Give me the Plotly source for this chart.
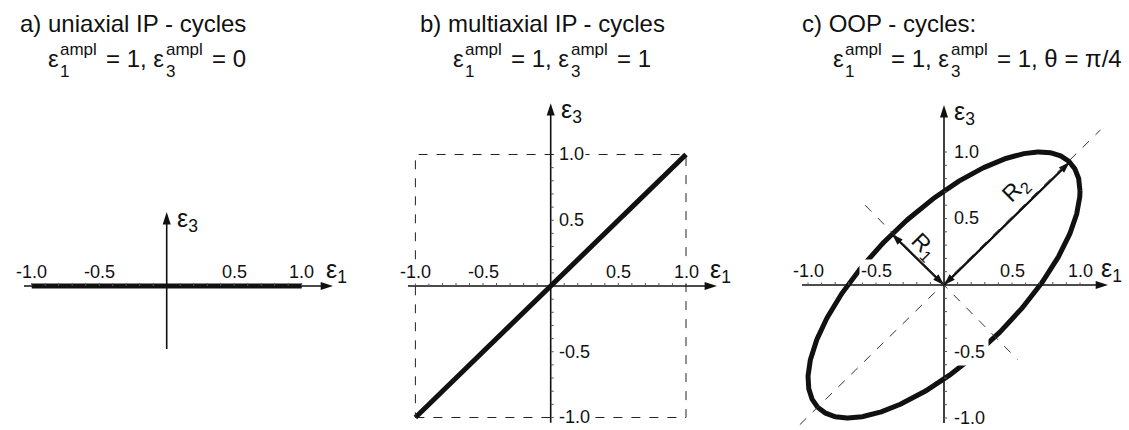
import numpy as np
import plotly.graph_objects as go

W, H = 1129, 430
FONT = "Liberation Sans, Arial, Helvetica, sans-serif"
INK = "#111111"

# ---- data: strain amplitudes and phase shift of the three cycle types ----
eps1_ampl = [1.0, 1.0, 1.0]
eps3_ampl = [0.0, 1.0, 1.0]
phase_shift = [0.0, 0.0, np.pi / 4]

title_line1 = ["a) uniaxial IP - cycles", "b) multiaxial IP - cycles", "c) OOP - cycles:"]
title_eps3 = ["= 0", "= 1", "= 1, θ = π/4"]

tick_vals = [-1.0, -0.5, 0.5, 1.0]
tick_text = ["-1.0", "-0.5", "0.5", "1.0"]
minor_tick_vals = [-1.0, -0.9, -0.8, -0.7, -0.6, -0.5, -0.4, -0.3, -0.2, -0.1,
                   0.1, 0.2, 0.3, 0.4, 0.5, 0.6, 0.7, 0.8, 0.9, 1.0]

# ---- layout of each panel (pixel origin, pixel scale, axis extents) ----
PANELS = [
    dict(ox=166.7, oy=286, sx=135.0, sy=135.0, xr=(-1.2, 1.3), yr=(-1.05, 1.45),
         xax=(-1.057, 1.232), yax=(-0.467, 0.548), yticks=False,
         t1=18, t2=47),
    dict(ox=550.7, oy=286, sx=135.3, sy=131.5, xr=(-1.2, 1.3), yr=(-1.08, 1.45),
         xax=(-1.055, 1.229), yax=(-1.04, 1.39), yticks=True,
         t1=418, t2=452),
    dict(ox=944.0, oy=285, sx=136.0, sy=133.0, xr=(-1.2, 1.3), yr=(-1.08, 1.45),
         xax=(-1.044, 1.206), yax=(-1.038, 1.353), yticks=True,
         t1=800, t2=832),
]
LABEL_GAP = 14  # px between x axis and its tick labels


def paper_x(px):
    return px / W


def paper_y(py):
    return 1 - py / H


fig = go.Figure()
shapes, annotations = [], []
layout_axes = {}


def add_arrow(xs, ys, xname, yname, width, head):
    """Polyline ending in arrow heads (every point after the first gets one)."""
    fig.add_trace(go.Scatter(
        x=xs, y=ys, mode="lines+markers", xaxis=xname, yaxis=yname,
        line=dict(color=INK, width=width),
        marker=dict(symbol="arrow", angleref="previous", size=head, color=INK,
                    line=dict(width=0)),
        hoverinfo="skip", showlegend=False))


t = np.linspace(0, 2 * np.pi, 721)

for i, p in enumerate(PANELS):
    k = "" if i == 0 else str(i + 1)
    xname, yname = "x" + k, "y" + k
    xd = [(p["ox"] + p["xr"][0] * p["sx"]) / W, (p["ox"] + p["xr"][1] * p["sx"]) / W]
    yd = [(H - (p["oy"] - p["yr"][0] * p["sy"])) / H, (H - (p["oy"] - p["yr"][1] * p["sy"])) / H]
    layout_axes["xaxis" + k] = dict(domain=xd, range=list(p["xr"]), visible=False,
                                    fixedrange=True, anchor=yname)
    layout_axes["yaxis" + k] = dict(domain=yd, range=list(p["yr"]), visible=False,
                                    fixedrange=True, anchor=xname)

    a1, a3, th = eps1_ampl[i], eps3_ampl[i], phase_shift[i]

    # minor ticks
    for v in minor_tick_vals:
        shapes.append(dict(type="line", xref=xname, yref=yname, x0=v, x1=v,
                           ysizemode="pixel", yanchor=0, y0=0, y1=3,
                           line=dict(color="#555555", width=1)))
        if p["yticks"]:
            shapes.append(dict(type="line", xref=xname, yref=yname, y0=v, y1=v,
                               xsizemode="pixel", xanchor=0, x0=0, x1=3,
                               line=dict(color="#555555", width=1)))

    # amplitude box of the in-phase multiaxial path
    if i == 1:
        shapes.append(dict(type="rect", xref=xname, yref=yname,
                           x0=-a1, x1=a1, y0=-a3, y1=a3,
                           line=dict(color="#222222", width=1, dash="dash")))

    # coordinate axes with arrow heads
    add_arrow([p["xax"][0], p["xax"][1]], [0, 0], xname, yname, 1.6, 13)
    add_arrow([0, 0], [p["yax"][0], p["yax"][1]], xname, yname, 1.6, 13)

    # principal axes and radii of the out-of-phase ellipse
    if i == 2:
        cov = 0.5 * np.array([[a1 * a1, a1 * a3 * np.cos(th)],
                              [a1 * a3 * np.cos(th), a3 * a3]])
        vals, vecs = np.linalg.eigh(cov)
        r_min, r_max = np.sqrt(2 * vals)
        v_min, v_max = vecs[:, 0], vecs[:, 1]
        if v_max[0] < 0:
            v_max = -v_max
        if v_min[1] < 0:
            v_min = -v_min
        shapes.append(dict(type="line", xref=xname, yref=yname,
                           x0=-1.06, y0=-1.05, x1=1.15, y1=1.165,
                           line=dict(color="#333333", width=1, dash="dash")))
        shapes.append(dict(type="line", xref=xname, yref=yname,
                           x0=-0.58, y0=0.60, x1=0.54, y1=-0.56,
                           line=dict(color="#333333", width=1, dash="dash")))
        for r, v, lab, ang, pos in [(r_min, v_min, "R<sub>1</sub>", 45, (-0.15, 0.29)),
                                    (r_max, v_max, "R<sub>2</sub>", -45, (0.53, 0.72))]:
            add_arrow([0, r * v[0], 0], [0, r * v[1], 0], xname, yname, 2, 12)
            annotations.append(dict(xref=xname, yref=yname, x=pos[0], y=pos[1],
                                    text=lab, textangle=ang, showarrow=False,
                                    font=dict(family=FONT, size=23, color=INK)))

    # strain path over one cycle
    e1 = a1 * np.cos(t)
    e3 = a3 * np.cos(t - th)
    fig.add_trace(go.Scatter(x=e1, y=e3, mode="lines", xaxis=xname, yaxis=yname,
                             line=dict(color=INK, width=5),
                             hoverinfo="skip", showlegend=False))

    # axis names
    annotations.append(dict(xref=xname, yref=yname, x=p["xax"][1], y=0,
                            xshift=-9, yshift=15, xanchor="left", yanchor="middle",
                            text="ε<sub>1</sub>", showarrow=False,
                            font=dict(family=FONT, size=25, color=INK)))
    annotations.append(dict(xref=xname, yref=yname, x=0, y=p["yax"][1],
                            xshift=8, yshift=-8, xanchor="left", yanchor="middle",
                            text="ε<sub>3</sub>", showarrow=False,
                            font=dict(family=FONT, size=25, color=INK)))

    # tick labels
    masked = i > 0
    for v, s in zip(tick_vals, tick_text):
        annotations.append(dict(xref=xname, yref=yname, x=v, y=LABEL_GAP / p["sy"],
                                xanchor="center", yanchor="middle", text=s,
                                showarrow=False, borderpad=1,
                                bgcolor="white" if (masked and (abs(v) == 1.0 or i == 2)) else "rgba(0,0,0,0)",
                                font=dict(family=FONT, size=18, color=INK)))
        if p["yticks"]:
            annotations.append(dict(xref=xname, yref=yname, x=0, y=v, xshift=6,
                                    xanchor="left", yanchor="middle", text=s,
                                    showarrow=False, borderpad=3 if i == 2 else 1,
                                    bgcolor="white",
                                    font=dict(family=FONT, size=18, color=INK)))

    # panel heading
    annotations.append(dict(xref="paper", yref="paper", x=paper_x(p["t1"]), y=paper_y(23),
                            xanchor="left", yanchor="middle", text=title_line1[i],
                            showarrow=False, font=dict(family=FONT, size=24, color=INK)))
    L = p["t2"]
    # main symbols of the amplitude line
    for txt, px in [("ε", L), ("= 1, ε", L + 58), (title_eps3[i], L + 164)]:
        annotations.append(dict(xref="paper", yref="paper", x=paper_x(px), y=paper_y(59),
                                xanchor="left", yanchor="middle", text=txt,
                                showarrow=False, borderpad=0,
                                font=dict(family=FONT, size=24, color=INK)))
    # stacked superscript / subscript of each epsilon
    for idx, px in [("1", L + 12), ("3", L + 118)]:
        annotations.append(dict(xref="paper", yref="paper", x=paper_x(px), y=paper_y(60),
                                xanchor="left", yanchor="middle", align="left",
                                text="ampl<br>" + idx, showarrow=False, borderpad=0,
                                font=dict(family=FONT, size=17, color=INK)))

fig.update_layout(
    width=W, height=H, margin=dict(l=0, r=0, t=0, b=0),
    paper_bgcolor="white", plot_bgcolor="rgba(0,0,0,0)",
    shapes=shapes, annotations=annotations, showlegend=False,
    **layout_axes,
)

fig.write_html("out.html", config={"displayModeBar": False})
